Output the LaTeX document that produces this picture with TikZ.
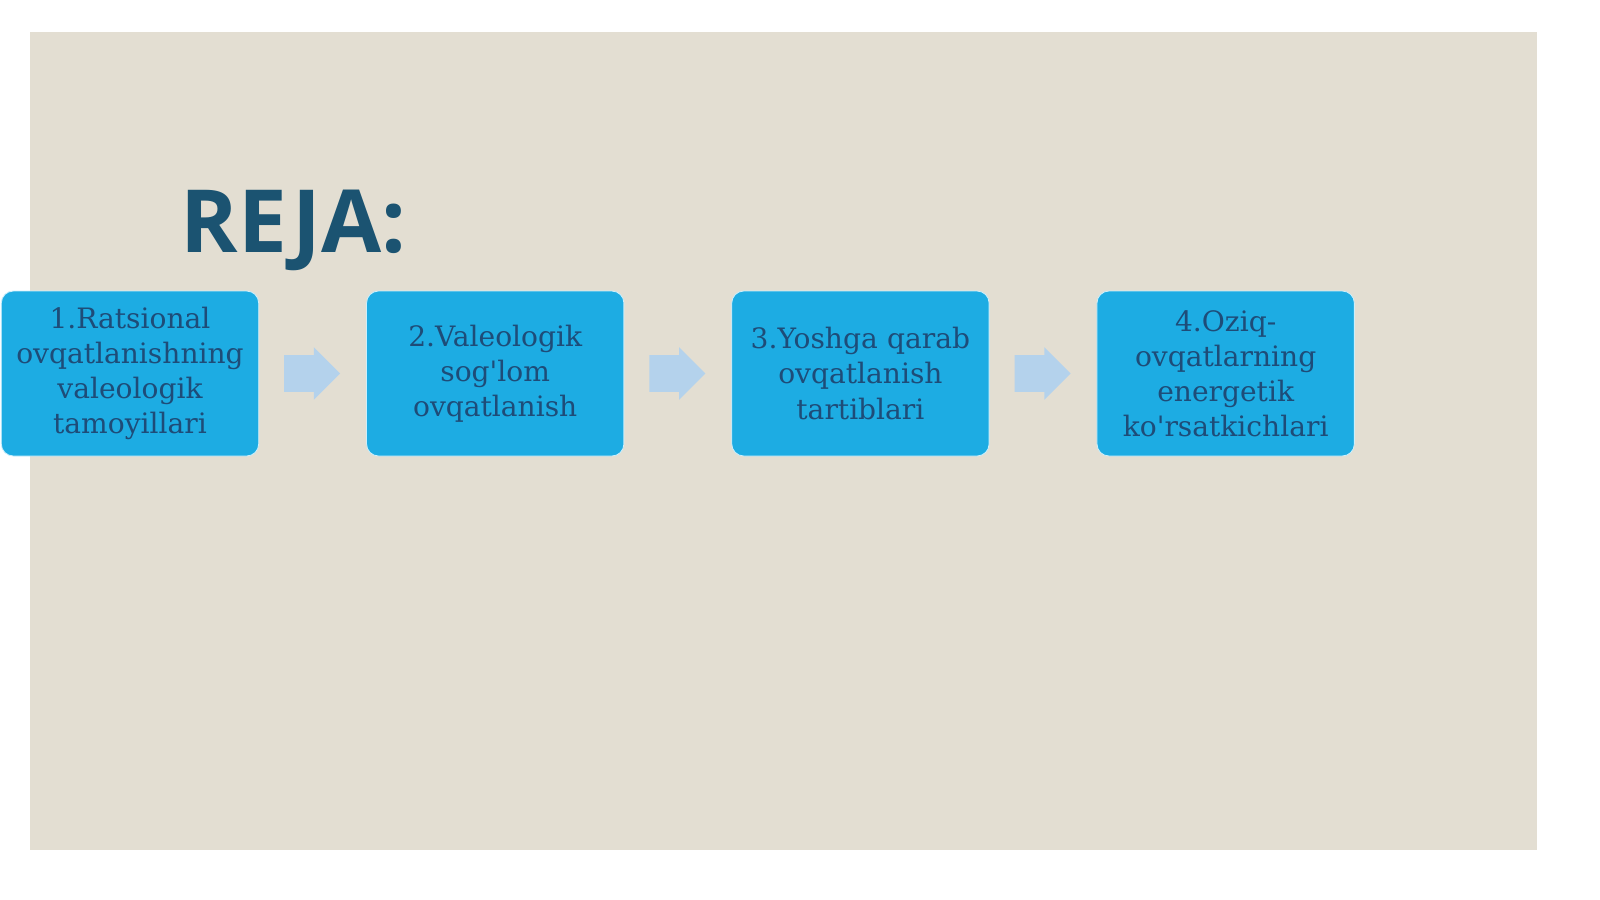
\documentclass[tikz,border=0pt]{standalone}
\usepackage{fontspec}
\setmainfont{DejaVu Serif}
\newfontfamily\titlefont{Open Sans}
\usetikzlibrary{positioning,shapes.arrows}

\definecolor{panel}{HTML}{E3DED2}
\definecolor{boxblue}{HTML}{1DACE3}
\definecolor{boxtext}{HTML}{1E4C78}
\definecolor{flowblue}{HTML}{AFD1EF}
\definecolor{titleteal}{HTML}{1B5371}

\begin{document}
\begin{tikzpicture} [planbox/.style={rectangle,rounded corners=0.3cm,fill=boxblue,draw=cyan!20,line width=0.6pt,
    minimum width=6.4cm,minimum height=4.125cm,text width=6.2cm,align=center,text=boxtext,
    font=\fontsize{20}{25}\selectfont},
  flow/.style={single arrow,fill=flowblue,draw=none,minimum height=1.4cm,
    single arrow head extend=0.2cm,inner sep=0.45cm,opacity=0.9}]
\useasboundingbox (0,0) rectangle (40,-22.475);
\fill[panel] (0.75,-0.8) rectangle (38.425,-21.25);

\node[anchor=base west,text=titleteal,font=\titlefont\bfseries\fontsize{62}{68}\selectfont] (title) at (4.4,-6.3) {REJA:};

\node[planbox] (a) at (3.25,-9.3375) {1.Ratsional ovqatlanishning valeologik tamoyillari};
\node[planbox] (b) [right=2.675cm of a] {2.Valeologik sog\textquotesingle lom ovqatlanish};
\node[planbox] (c) [right=2.675cm of b] {3.Yoshga qarab ovqatlanish tartiblari};
\node[planbox] (d) [right=2.675cm of c] {4.Oziq-\\ovqatlarning energetik ko\textquotesingle rsatkichlari};

\node[flow] (ab) [right=0.62cm of a] {};
\node[flow] (bc) [right=0.62cm of b] {};
\node[flow] (cd) [right=0.62cm of c] {};
\end{tikzpicture}
\end{document}
